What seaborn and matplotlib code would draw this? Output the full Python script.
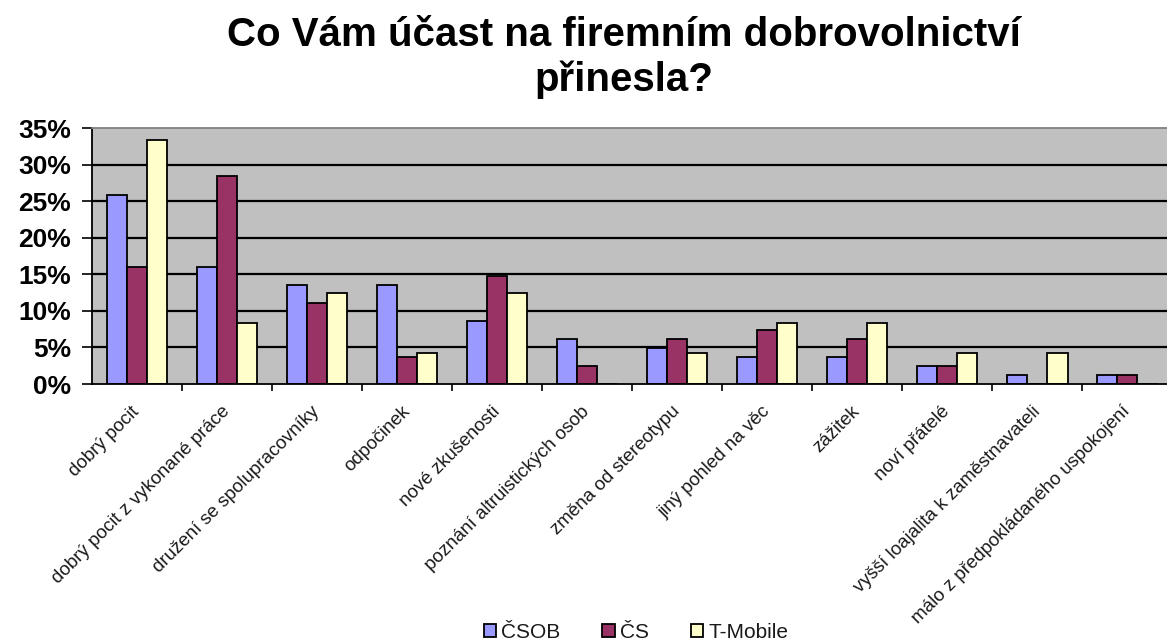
import matplotlib
matplotlib.use('Agg')
import matplotlib.pyplot as plt
import seaborn as sns
import pandas as pd
from matplotlib.ticker import FixedLocator

categories = [
    "dobrý pocit",
    "dobrý pocit z vykonané práce",
    "družení se spolupracovníky",
    "odpočinek",
    "nové zkušenosti",
    "poznání altruistických osob",
    "změna od stereotypu",
    "jiný pohled na věc",
    "zážitek",
    "noví přátelé",
    "vyšší loajalita k zaměstnavateli",
    "málo z předpokládaného uspokojení",
]
csob = [25.9, 16.0, 13.6, 13.6, 8.6, 6.2, 4.9, 3.7, 3.7, 2.5, 1.2, 1.2]
cs = [16.0, 28.4, 11.1, 3.7, 14.8, 2.5, 6.2, 7.4, 6.2, 2.5, 0.0, 1.2]
tmobile = [33.3, 8.3, 12.5, 4.2, 12.5, 0.0, 4.2, 8.3, 8.3, 4.2, 4.2, 0.0]
series = ["ČSOB", "ČS", "T-Mobile"]
colors = ["#9999FF", "#993366", "#FFFFCC"]
yticks = [0, 5, 10, 15, 20, 25, 30, 35]
ytick_labels = ["0%", "5%", "10%", "15%", "20%", "25%", "30%", "35%"]
title = "Co Vám účast na firemním dobrovolnictví\npřinesla?"

rows = []
for name, vals in zip(series, [csob, cs, tmobile]):
    for c, v in zip(categories, vals):
        rows.append({"kategorie": c, "firma": name, "podil": v})
df = pd.DataFrame(rows)

sns.set_theme(style="white")
plt.rcParams["font.family"] = ["Liberation Sans", "DejaVu Sans"]
plt.rcParams["text.color"] = "black"
plt.rcParams["xtick.color"] = "black"
plt.rcParams["ytick.color"] = "black"

fig = plt.figure(figsize=(11.67, 6.44), dpi=100)
ax = fig.add_axes([92 / 1167, 1 - 384 / 644, 1 - 92 / 1167, (384 - 128) / 644])
ax.set_facecolor("#C0C0C0")
ax.set_axisbelow(True)
for y in yticks[1:-1]:
    ax.axhline(y, color="black", lw=1.6, zorder=0.5)

sns.barplot(data=df, x="kategorie", y="podil", hue="firma", order=categories,
            hue_order=series, palette=colors, saturation=1, width=0.67,
            edgecolor="black", linewidth=1.3, ax=ax, zorder=2)

ax.set_xlim(-0.5, 11.44)
ax.set_ylim(0, 35)
ax.set_xlabel("")
ax.set_ylabel("")
ax.set_yticks(yticks)
ax.set_yticklabels(ytick_labels, fontsize=19, fontweight="bold", color="black")
ax.tick_params(axis="y", direction="out", length=7, width=1.2, color="black", pad=8, left=True)

ax.set_xticks(range(len(categories)))
ax.set_xticklabels(categories, rotation=45, ha="right", va="center",
                   rotation_mode="anchor", fontsize=13.5, color="#1a1a1a")
ax.tick_params(axis="x", which="major", length=0, pad=18)
ax.xaxis.set_minor_locator(FixedLocator([i + 0.5 for i in range(len(categories))]))
ax.tick_params(axis="x", which="minor", direction="out", length=5, width=1.2,
               color="black", bottom=True)

for s in ["left", "bottom"]:
    ax.spines[s].set_color("black")
    ax.spines[s].set_linewidth(1.3)
ax.spines["top"].set_color("#808080")
ax.spines["top"].set_linewidth(1.3)
ax.spines["right"].set_visible(False)

sns.move_legend(ax, "center", bbox_to_anchor=(0.545, 1 - 632 / 644),
                bbox_transform=fig.transFigure, ncol=3, frameon=False, title=None,
                fontsize=15, handlelength=0.6, handleheight=0.6, handletextpad=0.25,
                columnspacing=2.0, labelcolor="#1a1a1a")

fig.text(0.535, 1 - 16 / 644, title, ha="center", va="top", fontsize=29,
         fontweight="bold", linespacing=1.2, color="black")

fig.savefig("out.png", dpi=100)
